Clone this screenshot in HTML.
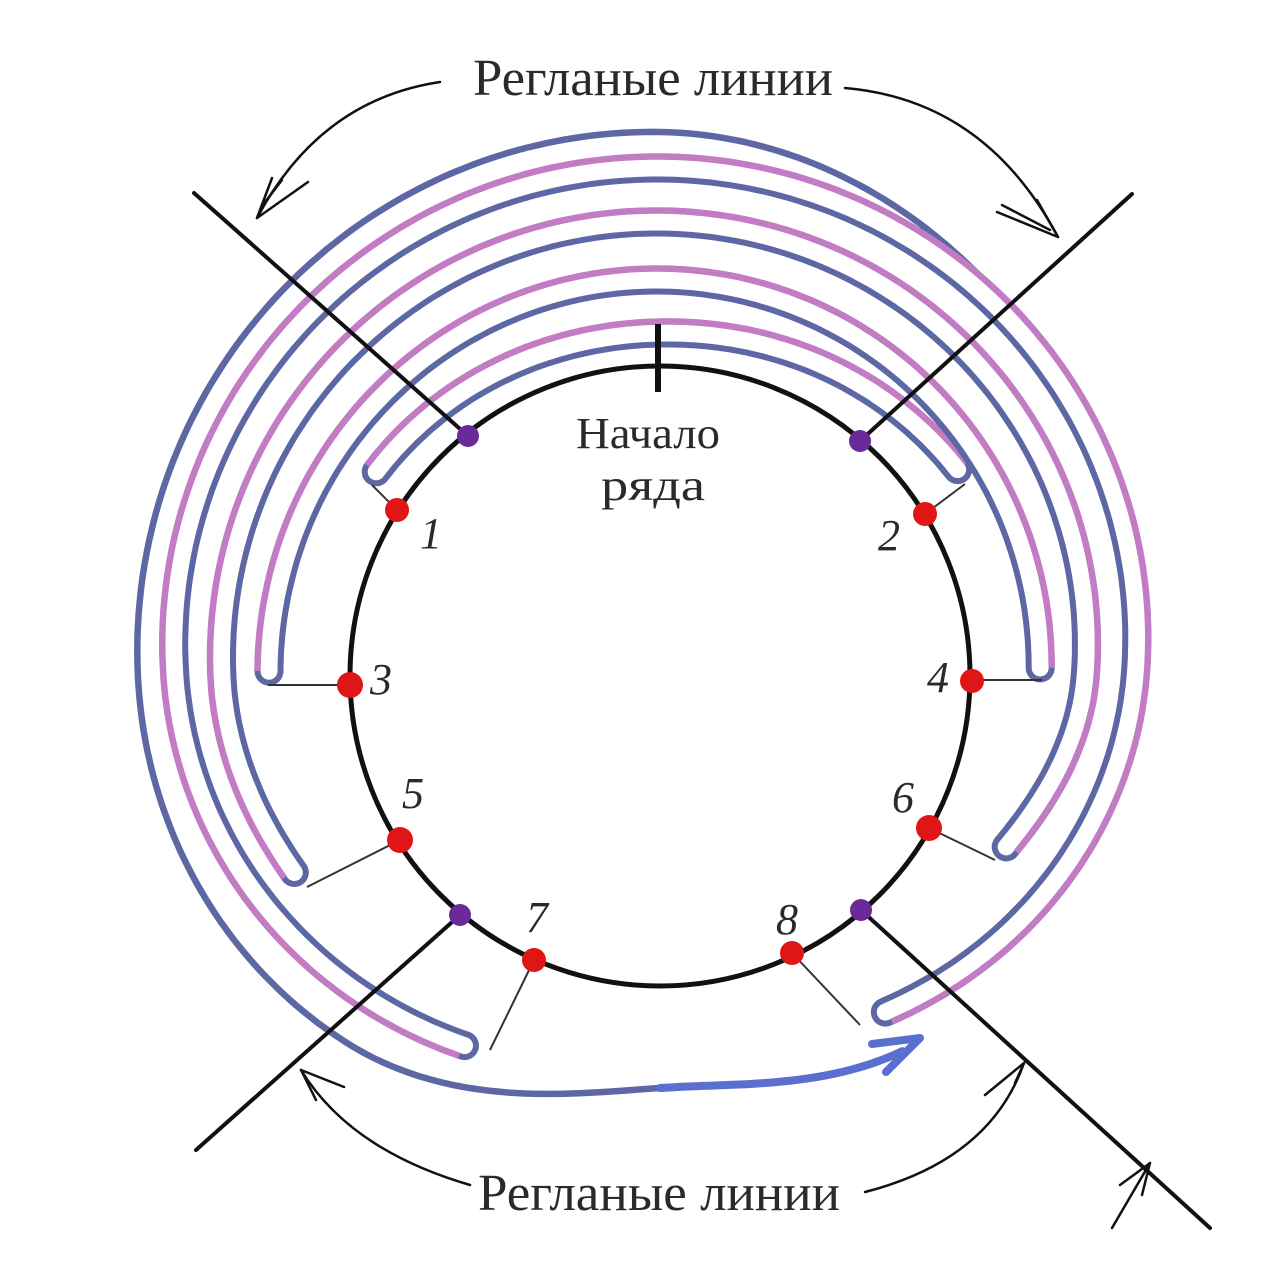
<!DOCTYPE html>
<html><head><meta charset="utf-8">
<style>
html,body{margin:0;padding:0;background:#fff;width:1280px;height:1280px;overflow:hidden}
svg{display:block}
text{font-family:"Liberation Serif","DejaVu Serif",serif;fill:#2a2a2a}
</style></head>
<body>
<svg id="s" width="1280" height="1280" viewBox="0 0 1280 1280" xmlns="http://www.w3.org/2000/svg">
<g id="arcs"></g>
<circle cx="660" cy="676" r="310" fill="none" stroke="#111" stroke-width="5"/>
<line x1="658" y1="324" x2="658" y2="392" stroke="#111" stroke-width="6"/>
<g stroke="#333" stroke-width="2">
<line x1="397" y1="510" x2="372" y2="485"/>
<line x1="925" y1="514" x2="965" y2="484"/>
<line x1="350" y1="685" x2="268" y2="685"/>
<line x1="972" y1="680" x2="1042" y2="680"/>
<line x1="400" y1="840" x2="307" y2="887"/>
<line x1="929" y1="828" x2="995" y2="860"/>
<line x1="534" y1="960" x2="490" y2="1050"/>
<line x1="792" y1="953" x2="860" y2="1025"/>
</g>
<g stroke="#111" stroke-width="4" stroke-linecap="round">
<line x1="194" y1="193" x2="468" y2="436"/>
<line x1="1132" y1="194" x2="860" y2="441"/>
<line x1="460" y1="915" x2="196" y2="1150"/>
<line x1="861" y1="910" x2="1210" y2="1228"/>
</g>
<g fill="#e01515">
<circle cx="397" cy="510" r="12"/><circle cx="925" cy="514" r="12"/>
<circle cx="350" cy="685" r="13"/><circle cx="972" cy="681" r="12"/>
<circle cx="400" cy="840" r="13"/><circle cx="929" cy="828" r="13"/>
<circle cx="534" cy="960" r="12"/><circle cx="792" cy="953" r="12"/>
</g>
<g fill="#6a2a9a">
<circle cx="468" cy="436" r="11"/><circle cx="860" cy="441" r="11"/>
<circle cx="460" cy="915" r="11"/><circle cx="861" cy="910" r="11"/>
</g>
<g fill="none" stroke="#111" stroke-width="2.5" stroke-linecap="round">
<path d="M440 82 Q320 100 257 218"/>
<path d="M257 218 L272 178 M257 218 L308 182 M262 206 L282 180"/>
<path d="M845 88 Q985 100 1058 237"/>
<path d="M1058 237 L997 212 M1058 237 L1037 200 M1050 230 L1002 205"/>
<path d="M470 1185 Q350 1150 301 1070"/>
<path d="M301 1070 L344 1087 M301 1070 L316 1100"/>
<path d="M865 1192 Q990 1160 1024 1063"/>
<path d="M1024 1063 L985 1095 M1024 1063 L1015 1083"/>
<path d="M1112 1228 L1150 1163 M1150 1163 L1120 1185 M1150 1163 L1142 1195"/>
</g>
<text x="473" y="95" font-size="52" textLength="360" lengthAdjust="spacingAndGlyphs">Регланые линии</text>
<text x="478" y="1210" font-size="52" textLength="362" lengthAdjust="spacingAndGlyphs">Регланые линии</text>
<text x="576" y="448" font-size="44" textLength="144" lengthAdjust="spacingAndGlyphs">Начало</text>
<text x="601" y="500" font-size="44" textLength="104" lengthAdjust="spacingAndGlyphs">ряда</text>
<g font-size="44" font-style="italic">
<text x="420" y="548">1</text>
<text x="878" y="550">2</text>
<text x="370" y="694">3</text>
<text x="927" y="692">4</text>
<text x="402" y="808">5</text>
<text x="892" y="812">6</text>
<text x="526" y="932">7</text>
<text x="776" y="934">8</text>
</g>
</svg>
<script>
(function(){
var NS="http://www.w3.org/2000/svg";
var g=document.getElementById("arcs");
var CX=660,CY=678;
function interp(keys,t){
  var n=keys.length;
  if(t<=keys[0][0])return keys[0][1];
  if(t>=keys[n-1][0])return keys[n-1][1];
  var i=1;while(t>keys[i][0])i++;
  var a=keys[i-1],b=keys[i];
  function slope(j){
    if(j<=0)return (keys[1][1]-keys[0][1])/(keys[1][0]-keys[0][0]);
    if(j>=n-1)return (keys[n-1][1]-keys[n-2][1])/(keys[n-1][0]-keys[n-2][0]);
    return (keys[j+1][1]-keys[j-1][1])/(keys[j+1][0]-keys[j-1][0]);
  }
  var h=b[0]-a[0],s=(t-a[0])/h,m0=slope(i-1)*h,m1=slope(i)*h;
  var s2=s*s,s3=s2*s;
  return (2*s3-3*s2+1)*a[1]+(s3-2*s2+s)*m0+(-2*s3+3*s2)*b[1]+(s3-s2)*m1;
}
function path(keys,t0,t1,off){
  var d="",n=Math.ceil(Math.abs(t1-t0));
  for(var i=0;i<=n;i++){
    var t=t0+(t1-t0)*i/n,r=interp(keys,t)+off,a=t*Math.PI/180;
    var x=CX+r*Math.cos(a),y=CY-r*Math.sin(a);
    d+=(i?"L":"M")+x.toFixed(1)+" "+y.toFixed(1);
  }
  return d;
}
function add(d,col,w,cap){
  var p=document.createElementNS(NS,"path");
  p.setAttribute("d",d);p.setAttribute("fill","none");
  p.setAttribute("stroke",col);p.setAttribute("stroke-width",w);
  p.setAttribute("stroke-linecap",cap||"butt");p.setAttribute("stroke-linejoin","round");
  g.appendChild(p);
}
var BLUE="#5d67a3",PINK="#c27cc4";
var ok=[[40,502],[90,546],[180,522],[230,480],[270,410],[303,445]];
add(path(ok,40,270,0),BLUE,6.5,"round");
add(path(ok,270,303,0),"#5a6fd0",8,"round");
var pairs=[
 {k:[[33,364],[90,345],[146,351]],a:35,b:144},
 {k:[[-1,380],[0,380],[90,398],[180,391],[181,391]],a:1.5,b:179},
 {k:[[-28,382],[0,425],[90,456],[180,438],[210.5,412]],a:-26,b:208},
 {k:[[-59,399],[0,475],[90,510],[180,485],[245,413]],a:-56,b:242}
];
pairs.forEach(function(p){
  var mid=path(p.k,p.a,p.b,0);
  add(mid,BLUE,29,"round");
  add(mid,"#ffffff",17,"round");
  add(path(p.k,p.a,p.b,11.5),PINK,6.5,"butt");
});
var ah=document.createElementNS(NS,"path");
ah.setAttribute("d","M872 1044 L920 1038 L886 1072");
ah.setAttribute("fill","none");ah.setAttribute("stroke","#5a6fd0");
ah.setAttribute("stroke-width","8");ah.setAttribute("stroke-linecap","round");ah.setAttribute("stroke-linejoin","round");
g.appendChild(ah);
})();
</script>
</body></html>
